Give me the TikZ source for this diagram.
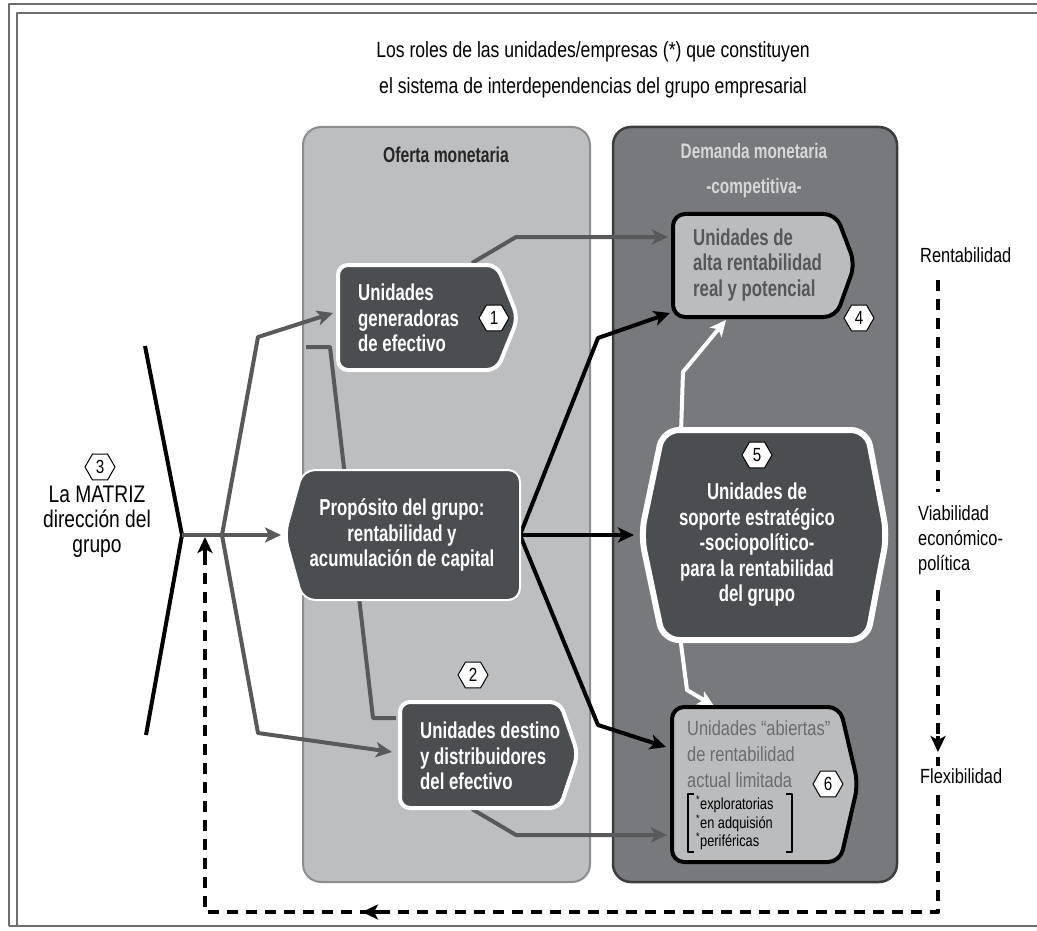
\documentclass[tikz,border=0pt]{standalone}
\usepackage{fontspec}
\setmainfont{Liberation Sans}[FakeStretch=0.8, BoldFeatures={FakeStretch=0.73}]
\usetikzlibrary{arrows.meta,shapes.geometric}
\definecolor{panelL}{HTML}{BDBEC0}
\definecolor{panelLb}{HTML}{8C8D8F}
\definecolor{panelD}{HTML}{77797C}
\definecolor{panelDb}{HTML}{3C3D3F}
\definecolor{nodeD}{HTML}{4B4E50}
\definecolor{nodeL}{HTML}{BBBCBE}
\definecolor{arrG}{HTML}{58595B}
\definecolor{nfourT}{HTML}{55575A}
\definecolor{nsixT}{HTML}{6A6C6E}
\definecolor{demT}{HTML}{D6D7D8}
\definecolor{frameC}{HTML}{6D6E70}
\tikzset{
 darkbox/.style={fill=nodeD, draw=white, line width=4pt, rounded corners=10pt},
 lightbox/.style={fill=nodeL, draw=black, line width=4pt, rounded corners=12pt},
 tipA/.style={-{Stealth[length=16pt,width=15pt,inset=4pt]}},
 garrow/.style={draw=arrG, line width=4pt, tipA},
 gline/.style={draw=arrG, line width=4pt},
 barrow/.style={draw=black, line width=4pt, tipA},
 warrow/.style={draw=white, line width=4pt, tipA},
 dline/.style={draw=black, line width=4pt, dash pattern=on 11pt off 8pt},
 badge/.style={regular polygon, regular polygon sides=6, draw=black, fill=white, line width=1pt, minimum size=30pt, inner sep=0pt, font=\fontsize{19}{19}\selectfont},
 bt/.style={font=\bfseries\fontsize{23}{25.5}\selectfont, align=left, inner sep=0pt},
 rt/.style={font=\fontsize{20.5}{25}\selectfont, align=left, inner sep=0pt, anchor=west},
}
\begin{document}
\begin{tikzpicture}[x=1pt,y=-1pt,line join=round]
\useasboundingbox (0,0) rectangle (1037,931);
% frame
\draw[frameC, line width=2.5pt] (9,926) -- (9,4) -- (1040,4);
\draw[frameC, line width=2.5pt] (17,926) -- (17,13) -- (1040,13);
\draw[frameC, line width=2.5pt] (9,926) -- (1040,926);
% title
\node[font=\fontsize{22}{36}\selectfont, align=center] (title) at (593,70) {Los roles de las unidades/empresas (*) que constituyen\\el sistema de interdependencias del grupo empresarial};
% panels
\path[fill=panelL, draw=panelLb, line width=2pt, rounded corners=18pt] (303,127) rectangle (590,882);
\path[fill=panelD, draw=panelDb, line width=2.5pt, rounded corners=18pt] (613,127) rectangle (897,882);
\node[font=\bfseries\fontsize{21.5}{21.5}\selectfont, text=black!85] (oft) at (446,155) {Oferta monetaria};
\node[font=\bfseries\fontsize{21}{35}\selectfont, text=demT, align=center] (dem) at (754,171) {Demanda monetaria\\-competitiva-};
% coordinates
\coordinate (mv) at (182,535);
\coordinate (gv) at (222,535);
\coordinate (gu) at (258,337);
\coordinate (gd) at (258,733);
\coordinate (n1in) at (333,313);
\coordinate (n2in) at (392,752);
\coordinate (cenL) at (281,535);
\coordinate (cenR) at (520,535);
\coordinate (n1top) at (472,263);
\coordinate (n1b) at (516,237);
\coordinate (n4in) at (668,237);
\coordinate (n4in2) at (670,313);
\coordinate (bu) at (598,338);
\coordinate (bd) at (598,725);
\coordinate (n5in) at (634,535);
\coordinate (n6in) at (666,747);
\coordinate (n2bot) at (472,809);
\coordinate (n2b) at (516,835);
\coordinate (n6in2) at (667,835);
\coordinate (n5top) at (681,433);
\coordinate (wu) at (683,372);
\coordinate (n4bot) at (726,320);
\coordinate (n5bot) at (680,636);
\coordinate (wd) at (687,690);
\coordinate (n6top) at (714,706);
% left matrix bracket
\draw[line width=4pt] (145,346) -- (mv) -- (146,735);
% connectors
\draw[gline] (306,347) -- (330,347) -- (373,718) -- (396,718);
\draw[garrow] (gv) -- (gu) -- (n1in);
\draw[garrow] (gv) -- (gd) -- (n2in);
\draw[garrow] (mv) -- (cenL);
\draw[garrow] (n1top) -- (n1b) -- (n4in);
\draw[garrow] (n2bot) -- (n2b) -- (n6in2);
\draw[barrow] (cenR) -- (bu) -- (n4in2);
\draw[barrow] (cenR) -- (n5in);
\draw[barrow] (cenR) -- (bd) -- (n6in);
\draw[warrow] (n5top) -- (wu) -- (n4bot);
\draw[warrow] (n5bot) -- (wd) -- (n6top);
% node 1
\path[darkbox] (338,265) -- (497,265) -- (518,318) -- (497,370) -- (338,370) -- cycle;
\node[bt, text=white, anchor=west] (n1) at (358,318) {Unidades\\generadoras\\de efectivo};
\node[badge] (b1) at (494,318) {1};
% node 4
\path[lightbox] (673,214) -- (836,214) -- (855,264) -- (836,317) -- (673,317) -- cycle;
\node[bt, text=nfourT, anchor=west] (n4) at (693,265) {Unidades de\\alta rentabilidad\\real y potencial};
\node[badge] (b4) at (859,318) {4};
% node 5
\path[fill=nodeD, draw=white, line width=6pt, rounded corners=16pt] (663,430) -- (867,430) -- (887,535) -- (867,640) -- (663,640) -- (641,535) -- cycle;
\node[bt, text=white, align=center] (n5) at (757,545) {Unidades de\\soporte estratégico\\-sociopolítico-\\para la rentabilidad\\del grupo};
\node[badge] (b5) at (757,455) {5};
% central node
\path[fill=nodeD, draw=white, line width=2pt, rounded corners=12pt] (303,470) -- (520,470) -- (520,600) -- (303,600) -- (285,535) -- cycle;
\node[bt, text=white, align=center] (cen) at (402,535) {Propósito del grupo:\\rentabilidad y\\acumulación de capital};
% node 2
\path[darkbox] (400,702) -- (560,702) -- (578,754) -- (560,808) -- (400,808) -- cycle;
\node[bt, text=white, anchor=west] (n2) at (420,756) {Unidades destino\\y distribuidores\\del efectivo};
\node[badge] (b2) at (473,675) {2};
% node 6
\path[lightbox] (672,707) -- (840,707) -- (858,784) -- (840,862) -- (672,862) -- cycle;
\node[font=\fontsize{20.5}{26}\selectfont, text=nsixT, align=left, inner sep=0pt, anchor=west] (n6) at (687,754) {Unidades “abiertas”\\de rentabilidad\\actual limitada};
\node[font=\fontsize{16}{18.5}\selectfont, align=left, inner sep=0pt, anchor=west] (n6l) at (696,823) {\textsuperscript{*}exploratorias\\\textsuperscript{*}en adquisión\\\textsuperscript{*}periféricas};
\draw[line width=2.2pt] (694,794) -- (688,794) -- (688,852) -- (694,852);
\draw[line width=2.2pt] (786,794) -- (792,794) -- (792,852) -- (786,852);
\node[badge] (b6) at (828,784) {6};
% matrix
\node[badge] (b3) at (100,467) {3};
\node[font=\fontsize{24}{25}\selectfont, align=center] (mat) at (97,522) {La MATRIZ\\dirección del\\grupo};
% right labels
\node[rt] (rent) at (920,255) {Rentabilidad};
\node[rt] (viab) at (918,540) {Viabilidad\\económico-\\política};
\node[rt] (flex) at (920,776) {Flexibilidad};
% dashed loop
\coordinate (d1) at (938,280);
\coordinate (d2) at (938,492);
\coordinate (d3) at (938,590);
\coordinate (d4) at (938,738);
\coordinate (d5) at (938,795);
\coordinate (dc) at (938,912);
\coordinate (dl) at (205,912);
\coordinate (de) at (205,548);
\draw[dline] (d1) -- (d2);
\draw[dline] (d3) -- (d4);
\draw[line width=4pt, tipA] (938,736) -- (938,752);
\draw[dline] (938,757) -- (938,766);
\draw[dline] (d5) -- (dc) -- (dl) -- (de);
\draw[line width=4pt, tipA] (380,912) -- (362,912);
\draw[line width=4pt, tipA] (205,558) -- (205,537);
\end{tikzpicture}
\end{document}
